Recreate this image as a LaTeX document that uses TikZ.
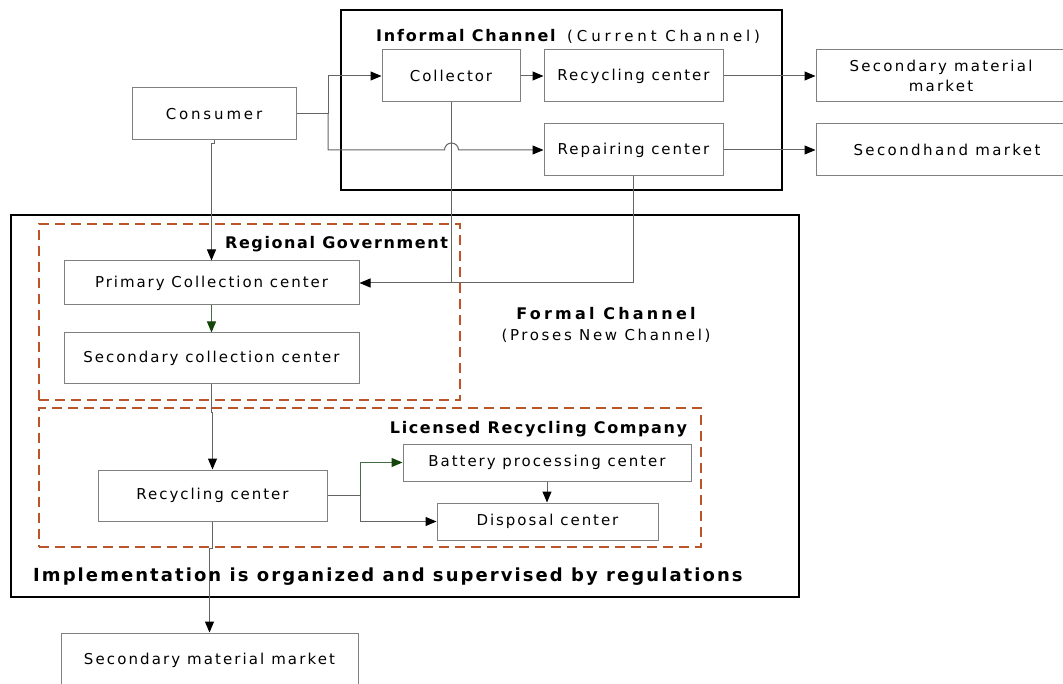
\documentclass[tikz,border=0pt]{standalone}
\usepackage{fontspec}
\setmainfont{DejaVu Sans}
\usetikzlibrary{arrows.meta}

\definecolor{boxgray}{RGB}{128,128,128}
\definecolor{linegray}{RGB}{100,100,100}
\definecolor{rust}{RGB}{185,85,40}
\definecolor{lgreen}{RGB}{70,110,70}
\definecolor{dgreen}{RGB}{20,70,10}

% label fonts: size in pt, letter spacing in 1/100 em
\newcommand\lbl[1]{\fontsize{15}{20}\selectfont\addfontfeature{LetterSpace=#1}}
\newcommand\hdr[2]{\fontsize{#1}{20}\selectfont\bfseries\addfontfeature{LetterSpace=#2}}

\begin{document}
\begin{tikzpicture}[x=1pt,y=-1pt,
  box/.style={draw=boxgray,line width=1pt,fill=white,inner sep=0pt,align=center,font=\lbl{13}},
  frame/.style={draw=black,line width=2.5pt,inner sep=0pt},
  group/.style={draw=rust,line width=2pt,dash pattern=on 10pt off 6pt,inner sep=0pt},
  conn/.style={draw=linegray,line width=1pt},
  arr/.style={conn,-{Triangle[length=11pt,width=9pt,color=black]}},
  garr/.style={draw=lgreen,line width=1pt,-{Triangle[length=11pt,width=9pt,color=dgreen]}},
  title/.style={inner sep=0pt,anchor=base}
]
\clip (0,0) rectangle (1063,684);

% channel frames and organisation groups
\node[frame,minimum width=441,minimum height=180] (informal) at (561.5,100) {};
\node[frame,minimum width=788,minimum height=382] (formal) at (405,406) {};
\node[group,minimum width=421,minimum height=176] (regional) at (249.5,312) {};
\node[group,minimum width=662,minimum height=139] (licensed) at (370,477.5) {};

% informal channel
\node[box,minimum width=164,minimum height=52,font=\lbl{19}] (consumer) at (214,114) {Consumer};
\node[box,minimum width=138,minimum height=52] (collector) at (451,76) {Collector};
\node[box,minimum width=179,minimum height=52] (rc1) at (633.5,76) {Recycling center};
\node[box,minimum width=179,minimum height=52] (repair) at (633.5,150) {Repairing center};
\node[box,minimum width=250,minimum height=52,font=\lbl{15}] (smm1) at (941,76) {Secondary material\\market};
\node[box,minimum width=262,minimum height=52,font=\lbl{16}] (shm) at (947,150) {Secondhand market};

% formal channel
\node[box,minimum width=295,minimum height=44] (primary) at (211.5,283) {Primary Collection center};
\node[box,minimum width=295,minimum height=51] (secondary) at (211.5,358.5) {Secondary collection center};
\node[box,minimum width=229,minimum height=51] (rc2) at (212.5,495.5) {Recycling center};
\node[box,minimum width=288,minimum height=37] (battery) at (547,462.5) {Battery processing center};
\node[box,minimum width=221,minimum height=37] (disposal) at (547.5,521.5) {Disposal center};
\node[box,minimum width=297,minimum height=55,font=\lbl{14}] (smm2) at (209.5,660.5) {Secondary material market};

% titles
\node[title,anchor=base west,font=\hdr{16}{11}] (infT) at (376,42) {Informal Channel};
\node[title,anchor=base west,font=\lbl{26}] (infS) at (567,42) {(Current Channel)};
\node[title,font=\hdr{16}{10}] (regT) at (336.5,249) {Regional Government};
\node[title,font=\hdr{16}{20}] (forT) at (606,320) {Formal Channel};
\node[title,font=\lbl{17.5}] (forS) at (606,341) {(Proses New Channel)};
\node[title,font=\hdr{16}{10}] (licT) at (538.5,434) {Licensed Recycling Company};
\node[title,anchor=base west,font=\hdr{18}{11.5}] (impT) at (33,581) {Implementation is organized and supervised by regulations};

% informal connectors
\coordinate (fork) at (328,114);
\coordinate (hop) at (444.5,150);
\draw[conn] (consumer.east) -- (fork);
\draw[arr] (fork) |- (collector.west);
\draw[arr] (fork) |- (hop) arc[start angle=180,end angle=360,radius=7] -- (repair.west);
\draw[arr] (collector) -- (rc1);
\draw[arr] (rc1) -- (smm1.west |- rc1.east);
\draw[arr] (repair) -- (shm.west |- repair.east);

% into the formal channel
\draw[conn] (collector.south) -- (collector.south |- primary.east);
\draw[arr] (repair.south) |- (primary.east);
\draw[arr] (consumer.south) -- ++(0,3) -| (primary.north);
\draw[garr] (primary) -- (secondary);
\draw[arr] (secondary.south) -- ++(0,28) -| (rc2.north);

% licensed recycling company
\coordinate (fork2) at (360,495.5);
\draw[conn] (rc2.east) -- (fork2);
\draw[garr] (fork2) |- (battery.west);
\draw[arr] (fork2) |- (disposal.west);
\draw[arr] (battery.south) -- (battery.south |- disposal.north);
\draw[arr] (rc2.south) -- ++(0,27) -| (smm2.north);
\end{tikzpicture}
\end{document}
